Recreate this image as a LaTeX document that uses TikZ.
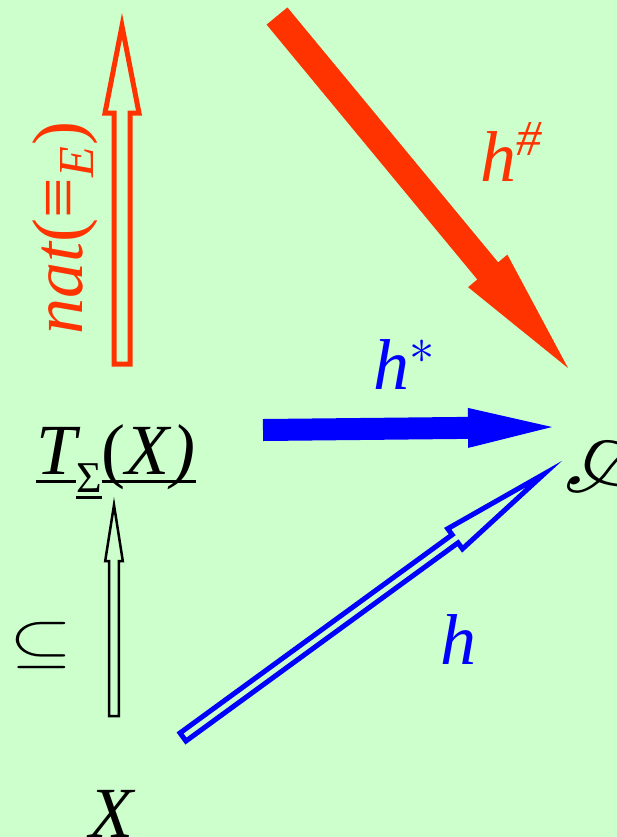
\RequirePackage{fix-cm}
\documentclass[tikz,border=0pt]{standalone}
\usepackage{fontspec}
\setmainfont{Liberation Serif}
\usepackage{mathrsfs}
\usetikzlibrary{calc}
\definecolor{bggreen}{HTML}{CCFFCC}
\definecolor{natred}{HTML}{FF3300}
\definecolor{homblue}{HTML}{0000FF}
% fixed depth underline: depth, text
\newcommand{\fixul}[2]{\setbox0\hbox{#2}\rlap{\rule[-#1]{\wd0}{1.5pt}}\box0}
% block arrow: style, from, to, half shaft, half head, head length
\newcommand{\blockarrow}[6]{%
  \coordinate (ba) at ($(#3)!#6!(#2)$);
  \path[#1] ($(#2)!#4!90:(#3)$) -- ($(ba)!#4!90:(#3)$) -- ($(ba)!#5!90:(#3)$) -- (#3)
    -- ($(ba)!#5!-90:(#3)$) -- ($(ba)!#4!-90:(#3)$) -- ($(#2)!#4!-90:(#3)$) -- cycle;
}
\begin{document}
\begin{tikzpicture}[x=0.5pt,y=-0.5pt]
	\tikzstyle{every node}=[font=\fontsize{36}{40}\selectfont, inner sep=0pt]
	\tikzstyle{openarrow}=[line width=2.5pt, line join=miter, miter limit=20]
	\fill[bggreen] (0,0) rectangle (617,837);
	\useasboundingbox (0,0) rectangle (617,837);
	\clip (0,0) rectangle (617,837);
	% objects
	\node (ts) at (116,462) {\fixul{4pt}{\itshape T}\raisebox{-9pt}{\fontsize{22}{24}\selectfont\fixul{3pt}{Σ}}\fixul{4pt}{(\itshape X\/)}};
	\node[anchor=west] (alg) at (563,452) {\scalebox{2.3}{$\mathscr{A}$}};
	\node (x) at (111,814) {\itshape X};
	\node (sub) at (41,645) {\scalebox{1.35}[1]{\fontsize{30}{32}\selectfont$\subseteq$}};
	% labels
	\node[rotate=90, text=natred] (nat) at (65,228) {{\itshape nat}(≡\textsubscript{\itshape E})};
	\node[text=natred] (hsharp) at (512,152) {{\itshape h}\textsuperscript{\itshape\#}};
	\node[text=homblue] (hstar) at (405,365) {{\itshape h}$^{\ast}$};
	\node[text=homblue] (hlab) at (458,640) {\itshape h};
	% arrow ends
	\coordinate (natS) at (122,364);
	\coordinate (natE) at (122,26);
	\coordinate (hsS) at (277,16);
	\coordinate (hsE) at (568,368);
	\coordinate (hstS) at (263,430);
	\coordinate (hstE) at (552,427);
	\coordinate (incS) at (114,716);
	\coordinate (incE) at (114,505);
	\coordinate (hS) at (183,737);
	\coordinate (hE) at (544,474);
	% arrows
	\blockarrow{fill=natred}{hsS}{hsE}{6.75pt}{12.75pt}{63pt}
	\blockarrow{fill=homblue}{hstS}{hstE}{5.5pt}{10pt}{42pt}
	\blockarrow{draw=natred, openarrow}{natS}{natE}{4pt}{8.5pt}{43.5pt}
	\blockarrow{draw=black, line width=1.25pt, line join=miter, miter limit=20}{incS}{incE}{2.4pt}{4.4pt}{28pt}
	\blockarrow{draw=homblue, openarrow}{hS}{hE}{2.5pt}{6.25pt}{55pt}
\end{tikzpicture}
\end{document}
